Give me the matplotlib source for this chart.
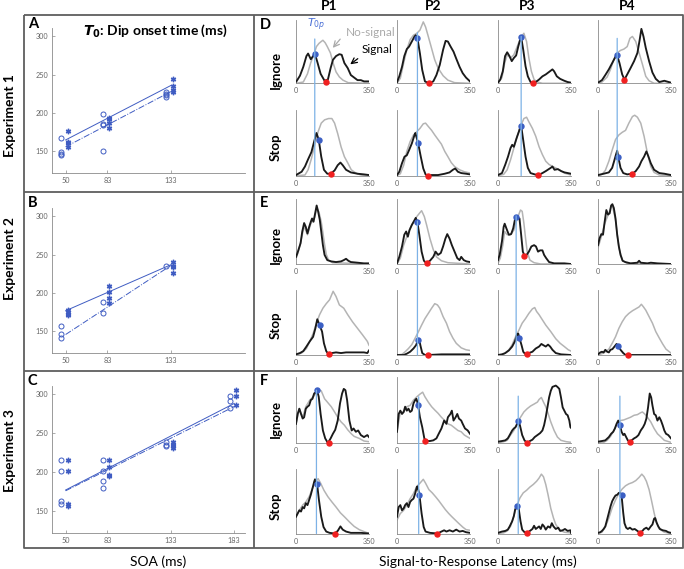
import numpy as np
import matplotlib
matplotlib.use('Agg')
import matplotlib.pyplot as plt
import matplotlib.transforms as mtransforms
from matplotlib.patches import ConnectionPatch

plt.rcParams['font.family'] = ['Lato', 'DejaVu Sans']

# ---------------- Scatter data (T0 dip onset time, ms) ----------------
soa_ticks = [50, 83, 133, 183]
expA_soa = [50, 83, 133]
expA_ignore = [[168, 149, 147, 145], [199, 186, 184, 150], [228, 225, 223, 221]]
expA_stop = [[177, 162, 161, 156], [194, 192, 187, 181], [245, 236, 230, 227]]
expA_fit_stop = [165, 236]
expA_fit_ignore = [156, 228]

expB_soa = [50, 83, 133]
expB_ignore = [[157, 147, 141], [189, 174], [236]]
expB_stop = [[178, 176, 173, 171], [209, 202, 194, 187], [241, 235, 234, 226]]
expB_fit_stop = [177, 237]
expB_fit_ignore = [146, 236]

expC_soa = [50, 83, 133, 183]
expC_ignore = [[215, 201, 163, 159], [215, 201, 189, 179], [238, 235, 233], [298, 291, 282]]
expC_stop = [[215, 201, 159, 156], [215, 206, 196, 195], [239, 235, 233, 231], [305, 297, 286]]
expC_fit_stop = [177, 288]
expC_fit_ignore = [176, 284]

# ---------------- Latency distributions (ms, % of panel height) ----------------
D_ign_sig = [
    [(2,3),(19,12),(35,26),(50,43),(58,47),(71,38),(82,43),(90,47),(102,34),(118,15),(137,4),(153,6),(166,24),(177,37),(192,43),(208,46),(219,45),(232,32),(248,24),(263,13),(279,9),(295,5),(311,5),(326,3),(350,3)],
    [(0,2),(11,11),(24,26),(35,43),(47,54),(58,58),(71,66),(84,74),(90,76),(98,71),(110,47),(121,21),(134,3),(153,0),(174,3),(189,13),(205,29),(221,53),(233,67),(244,66),(257,58),(271,50),(284,39),(300,26),(315,16),(331,9),(350,3)],
    [(0,1),(11,6),(23,19),(34,43),(44,49),(55,43),(66,35),(76,40),(87,44),(97,58),(108,71),(111,73),(121,53),(132,27),(143,11),(156,2),(167,1),(181,2),(197,6),(213,11),(229,14),(245,18),(261,22),(269,19),(282,11),(298,7),(318,4),(334,2),(350,1)],
    [(0,1),(19,5),(35,13),(52,22),(68,32),(84,42),(92,44),(103,32),(116,14),(127,6),(140,14),(156,24),(173,35),(189,48),(200,69),(208,86),(218,74),(229,56),(245,35),(261,17),(277,7),(294,2),(318,4),(350,1)],
]
D_ign_nos = [
    [(0,0),(35,2),(55,15),(70,32),(85,45),(98,58),(110,63),(121,66),(129,68),(140,64),(150,58),(165,48),(178,32),(192,18),(208,10),(225,5),(250,1),(350,0)],
    [(0,0),(16,8),(32,32),(47,53),(63,69),(79,76),(95,79),(110,84),(126,97),(137,89),(150,74),(166,55),(181,37),(197,24),(221,12),(244,5),(276,1),(350,0)],
    [(0,0),(19,9),(32,32),(44,45),(60,40),(76,45),(92,58),(108,71),(124,79),(137,66),(148,40),(160,19),(173,6),(189,2),(213,0),(350,0)],
    [(0,0),(19,2),(44,10),(60,22),(76,38),(92,48),(108,52),(124,54),(140,58),(153,71),(165,74),(181,66),(197,48),(213,30),(229,11),(245,4),(269,0),(350,0)],
]
D_stop_sig = [
    [(0,1),(27,6),(43,14),(58,25),(74,36),(87,52),(98,65),(109,55),(121,29),(134,9),(150,3),(166,3),(185,8),(200,16),(213,20),(224,16),(240,9),(263,5),(295,3),(326,2),(350,1)],
    [(0,1),(11,6),(24,19),(36,29),(47,31),(58,39),(71,49),(84,62),(88,65),(101,50),(114,29),(126,11),(137,2),(147,0),(166,1),(197,1),(229,3),(252,5),(268,9),(279,11),(292,6),(308,4),(331,3),(350,2)],
    [(0,1),(19,4),(35,17),(48,29),(60,42),(68,47),(76,44),(89,57),(100,67),(108,75),(111,76),(121,54),(132,29),(143,12),(156,4),(176,2),(194,1),(213,4),(229,7),(253,12),(261,14),(271,9),(287,10),(303,7),(319,5),(350,3)],
    [(0,1),(27,3),(52,5),(68,12),(79,24),(87,33),(92,38),(97,29),(108,12),(121,4),(140,2),(165,3),(181,7),(197,14),(208,22),(221,29),(232,37),(242,29),(253,19),(269,9),(294,4),(318,3),(350,1)],
]
D_stop_nos = [
    [(0,0),(43,1),(58,9),(74,26),(90,47),(106,67),(121,80),(137,85),(156,87),(172,87),(185,80),(200,64),(216,44),(232,29),(249,19),(265,9),(287,4),(311,1),(350,0)],
    [(0,0),(16,3),(32,16),(47,37),(63,52),(79,62),(95,67),(110,72),(126,79),(137,80),(150,75),(166,69),(181,62),(197,55),(213,48),(229,37),(244,29),(260,20),(276,14),(300,9),(323,6),(350,4)],
    [(0,0),(27,2),(44,9),(60,24),(76,42),(92,60),(108,75),(124,87),(137,89),(148,82),(165,72),(181,60),(197,44),(213,32),(229,22),(245,17),(269,13),(294,9),(318,4),(350,1)],
    [(0,0),(19,2),(35,8),(52,22),(68,39),(84,55),(100,62),(116,66),(132,69),(148,80),(165,90),(176,92),(189,89),(205,80),(221,60),(237,34),(253,14),(269,5),(294,1),(350,0)],
]

E_ign_sig = [
    [(0,11),(6,16),(14,24),(22,32),(30,50),(39,63),(47,57),(55,47),(63,57),(71,65),(77,70),(84,65),(90,75),(99,90),(106,81),(114,68),(121,50),(129,29),(137,14),(150,6),(169,4),(192,3),(216,4),(229,6),(240,8),(251,5),(263,3),(295,2),(326,1),(350,1)],
    [(0,1),(11,11),(24,27),(35,45),(44,50),(52,42),(60,52),(71,60),(80,65),(90,71),(98,64),(107,45),(118,19),(129,5),(142,1),(158,5),(174,11),(185,19),(197,14),(210,17),(221,27),(232,39),(241,46),(252,39),(263,29),(276,19),(289,9),(300,6),(308,11),(320,6),(333,4),(350,3)],
    [(0,6),(8,14),(19,35),(27,57),(32,62),(40,55),(52,45),(63,46),(73,55),(81,68),(87,73),(95,71),(103,70),(111,45),(119,19),(127,13),(137,14),(148,19),(160,27),(173,29),(182,27),(192,19),(202,21),(213,21),(221,14),(231,9),(245,3),(269,1),(318,1),(350,0)],
    [(0,29),(8,40),(16,46),(24,45),(32,65),(40,83),(48,76),(56,78),(63,90),(69,92),(76,86),(84,70),(92,45),(100,27),(108,14),(118,5),(131,3),(156,1),(189,2),(197,5),(205,2),(237,1),(253,2),(285,1),(350,0)],
]
E_ign_nos = [
    [(0,8),(14,22),(30,45),(39,58),(55,45),(71,62),(90,72),(99,86),(110,80),(121,65),(129,48),(137,30),(145,15),(156,6),(175,2),(350,0)],
    [(0,0),(16,9),(32,29),(47,42),(63,55),(79,65),(95,73),(110,79),(118,82),(131,73),(142,60),(158,39),(174,22),(189,11),(213,5),(244,2),(350,0)],
    [(0,1),(11,9),(23,29),(32,50),(44,45),(60,45),(76,52),(92,70),(108,83),(116,81),(124,63),(132,40),(140,19),(153,6),(173,2),(205,0),(350,0)],
    [(0,25),(16,42),(32,62),(48,75),(63,88),(69,90),(84,68),(100,25),(118,5),(140,1),(350,0)],
]
E_stop_sig = [
    [(0,1),(19,3),(35,6),(50,13),(66,21),(82,28),(93,41),(102,55),(113,46),(125,36),(134,18),(145,6),(156,1),(172,3),(192,4),(216,3),(240,4),(263,4),(295,4),(326,4),(342,3),(350,7)],
    [(0,0),(32,0),(47,2),(63,5),(79,10),(91,15),(99,21),(106,25),(112,15),(121,3),(134,0),(150,0),(213,1),(276,1),(350,1)],
    [(0,0),(19,1),(35,3),(52,7),(68,13),(81,21),(92,32),(97,33),(103,26),(113,15),(121,5),(129,2),(137,1),(148,3),(165,5),(181,10),(197,13),(208,17),(218,15),(229,13),(240,16),(250,13),(261,8),(277,3),(302,1),(350,0)],
    [(0,1),(11,4),(19,5),(27,4),(35,8),(44,5),(52,4),(60,8),(69,9),(79,13),(89,17),(97,14),(108,8),(121,3),(132,0),(142,0),(189,0),(350,0)],
]
E_stop_nos = [
    [(0,0),(27,3),(50,10),(66,21),(82,33),(98,49),(113,62),(129,72),(145,79),(161,85),(178,98),(192,90),(208,77),(229,72),(248,62),(271,51),(295,41),(319,31),(342,21),(350,15)],
    [(0,0),(24,1),(39,5),(55,10),(71,16),(87,26),(103,36),(118,46),(134,56),(150,64),(166,72),(181,79),(194,77),(205,72),(221,59),(237,49),(252,36),(268,26),(284,18),(308,11),(331,8),(350,7)],
    [(0,0),(27,1),(52,8),(68,16),(84,28),(100,38),(116,49),(132,56),(148,64),(165,71),(176,73),(185,67),(197,62),(213,54),(229,46),(253,36),(277,25),(298,18),(318,13),(337,8),(350,6)],
    [(0,0),(27,3),(52,9),(68,18),(84,28),(100,41),(116,51),(132,59),(148,64),(165,68),(181,71),(197,74),(208,78),(218,74),(229,69),(245,59),(261,49),(277,36),(294,26),(310,17),(326,9),(350,3)],
]

F_ign_sig = [
    [(0,29),(8,44),(16,52),(24,44),(32,37),(39,39),(47,52),(55,55),(63,57),(71,65),(79,67),(87,75),(95,77),(101,80),(109,70),(118,44),(129,19),(140,7),(153,0),(166,7),(177,14),(188,20),(200,34),(211,60),(221,75),(229,82),(237,80),(245,65),(256,34),(267,19),(276,22),(287,17),(298,19),(311,12),(326,9),(342,12),(350,9)],
    [(0,17),(8,44),(16,49),(24,44),(32,47),(39,55),(47,49),(55,52),(63,47),(71,49),(79,60),(87,65),(93,67),(101,58),(110,39),(121,24),(131,7),(139,3),(158,3),(174,4),(189,7),(200,14),(213,22),(226,34),(237,29),(244,39),(256,44),(263,49),(271,34),(281,39),(289,44),(297,37),(308,34),(315,29),(326,22),(339,19),(350,14)],
    [(0,2),(19,3),(35,4),(47,7),(56,12),(68,19),(76,22),(84,24),(92,29),(97,33),(105,27),(116,12),(127,4),(140,0),(153,3),(165,5),(176,9),(189,12),(202,15),(213,19),(221,27),(229,39),(237,54),(245,69),(253,79),(261,85),(269,86),(277,87),(285,85),(294,82),(302,69),(310,54),(318,49),(326,44),(334,42),(342,34),(347,24),(350,23)],
    [(0,2),(19,3),(35,4),(52,9),(63,14),(73,17),(81,22),(89,29),(97,34),(105,27),(113,17),(121,12),(127,14),(135,9),(143,4),(152,2),(161,4),(173,7),(184,9),(194,12),(205,19),(216,24),(224,29),(232,37),(240,54),(248,75),(255,69),(261,57),(269,44),(277,42),(285,34),(294,39),(302,34),(310,27),(318,19),(326,14),(337,12),(350,7)],
]
F_ign_nos = [
    [(0,29),(16,52),(32,39),(47,55),(66,65),(82,70),(98,76),(114,80),(121,79),(137,67),(153,61),(169,55),(185,47),(200,39),(216,32),(232,27),(248,20),(265,14),(279,10),(303,7),(326,3),(350,2)],
    [(0,17),(16,47),(32,47),(47,55),(63,57),(79,65),(95,70),(110,74),(123,77),(134,70),(150,62),(166,55),(181,50),(197,45),(213,39),(229,34),(244,29),(260,27),(276,23),(292,19),(308,17),(323,12),(339,9),(350,7)],
    [(0,0),(27,2),(44,4),(60,12),(76,19),(92,30),(108,39),(124,47),(140,52),(156,56),(173,59),(189,62),(197,66),(208,69),(218,62),(229,55),(240,45),(253,32),(269,19),(285,9),(302,4),(327,2),(350,1)],
    [(0,0),(27,1),(44,4),(60,10),(76,19),(92,29),(108,34),(124,35),(140,37),(156,39),(173,42),(189,43),(205,46),(213,47),(224,44),(237,39),(253,32),(269,22),(285,14),(302,9),(318,4),(350,1)],
]
F_stop_sig = [
    [(0,26),(8,31),(16,36),(24,34),(32,41),(39,39),(47,47),(55,44),(63,52),(71,60),(79,70),(87,80),(91,84),(101,77),(110,52),(121,26),(132,10),(145,3),(161,1),(185,0),(200,4),(213,11),(224,6),(240,3),(263,1),(311,1),(350,0)],
    [(0,26),(8,41),(16,44),(24,36),(32,39),(39,44),(47,47),(55,41),(63,49),(71,52),(79,54),(87,62),(95,72),(98,73),(107,61),(118,31),(128,10),(137,3),(158,1),(194,0),(213,3),(226,5),(237,3),(252,5),(268,3),(284,6),(300,3),(315,4),(331,2),(350,1)],
    [(0,1),(19,3),(35,4),(47,6),(56,11),(68,19),(76,27),(82,37),(89,42),(94,43),(100,37),(108,19),(116,6),(127,2),(140,1),(153,4),(165,7),(173,12),(181,7),(189,9),(197,11),(205,7),(213,14),(221,11),(229,6),(240,11),(250,9),(258,16),(266,11),(277,7),(289,9),(298,4),(310,5),(321,7),(334,4),(347,5),(350,1)],
    [(0,1),(11,2),(19,4),(27,7),(35,11),(44,22),(52,32),(60,42),(68,50),(76,55),(84,59),(92,60),(100,63),(108,62),(113,59),(121,32),(127,16),(135,9),(143,7),(153,9),(165,6),(176,7),(189,4),(202,1),(213,4),(221,7),(232,9),(242,6),(253,11),(261,14),(269,23),(274,24),(281,17),(289,11),(297,7),(310,5),(326,4),(337,2),(350,1)],
]
F_stop_nos = [
    [(0,26),(16,36),(32,44),(47,49),(63,57),(79,70),(95,80),(106,85),(118,78),(134,67),(153,57),(172,49),(192,41),(213,32),(232,26),(256,18),(279,11),(303,6),(326,3),(350,0)],
    [(0,21),(16,31),(32,36),(47,44),(63,54),(79,62),(95,73),(110,78),(126,84),(137,78),(153,68),(169,63),(185,57),(200,51),(216,44),(232,37),(248,31),(263,26),(279,21),(295,16),(315,10),(331,6),(350,5)],
    [(0,0),(27,1),(44,4),(60,11),(73,24),(89,42),(105,55),(121,63),(137,67),(153,72),(169,76),(185,81),(197,86),(208,92),(218,88),(229,76),(240,60),(253,39),(266,24),(277,14),(294,6),(318,2),(350,1)],
    [(0,0),(19,2),(35,10),(52,24),(68,40),(84,52),(100,62),(116,69),(132,74),(148,77),(165,79),(181,82),(197,87),(210,92),(221,88),(232,81),(245,68),(256,52),(269,32),(281,16),(294,7),(318,2),(350,0)],
]

# T0 (blue) and dip minimum (red) markers: (ms, % height)
D_ign_T0 = [(90, 47), (98, 71), (111, 73), (92, 44)]
D_ign_dip = [(142, 2), (153, 1), (167, 1), (127, 6)]
D_stop_T0 = [(109, 55), (101, 50), (111, 76), (97, 29)]
D_stop_dip = [(166, 3), (147, 0), (194, 1), (165, 3)]
E_ign_T0 = [None, (98, 64), (87, 73), None]
E_ign_dip = [None, (142, 1), (127, 13), None]
E_stop_T0 = [(113, 46), (101, 23), (103, 26), (97, 14)]
E_stop_dip = [(159, 1), (147, 0), (137, 1), (142, 0)]
F_ign_T0 = [(101, 80), (101, 58), (97, 33), (105, 27)]
F_ign_dip = [(156, 0), (134, 3), (140, 0), (152, 2)]
F_stop_T0 = [(101, 77), (107, 60), (93, 43), (113, 59)]
F_stop_dip = [(185, 0), (194, 0), (140, 1), (202, 1)]

# population T0p lines (ms)
D_T0p = [90, 98, 111, 92]
E_T0p = [None, 98, 87, None]
F_T0p = [98, 104, 97, 105]

participants = ['P1', 'P2', 'P3', 'P4']
conditions = ['Ignore', 'Stop']

# ---------------- Figure ----------------
W, H = 684, 569
fig = plt.figure(figsize=(W / 100, H / 100), dpi=100)

def ax_px(l, t, r, b):
    return fig.add_axes([l / W, 1 - b / H, (r - l) / W, (b - t) / H])

BLUE = '#3F5CC2'
LBLUE = '#7DB2E6'
GRAY = '#B4B4B4'
TICKC = '#666666'
SPC = '#8A8A8A'

# ---- scatter panels ----
scatter_rows = [
    (expA_soa, expA_ignore, expA_stop, expA_fit_ignore, expA_fit_stop, (28, 173.3), [50, 83, 133]),
    (expB_soa, expB_ignore, expB_stop, expB_fit_ignore, expB_fit_stop, (208, 353.3), [50, 83, 133]),
    (expC_soa, expC_ignore, expC_stop, expC_fit_ignore, expC_fit_stop, (385.5, 533.3), soa_ticks),
]
for soa, ign, stp, fit_i, fit_s, (t, b), xt in scatter_rows:
    ax = ax_px(52.3, t, 245, b)
    ax.set_facecolor('none')
    for s, vals in zip(soa, ign):
        ax.plot([s - 3.5] * len(vals), vals, 'o', mfc='none', mec=BLUE, ms=3.6, mew=0.7, clip_on=False)
    for s, vals in zip(soa, stp):
        ax.plot([s + 1.5] * len(vals), vals, marker=(6, 2, 0), ls='none', color=BLUE, ms=3.9, mew=1.0, clip_on=False)
    ax.plot([soa[0], soa[-1]], fit_s, '-', color=BLUE, lw=0.7)
    ax.plot([soa[0], soa[-1]], fit_i, '-.', color=BLUE, lw=0.7)
    ax.set_xlim(39.5, 191.5)
    ax.set_ylim(121.5, 311)
    ax.set_xticks(xt)
    ax.set_yticks([150, 200, 250, 300])
    for sp in ['top', 'right']:
        ax.spines[sp].set_visible(False)
    for sp in ['left', 'bottom']:
        ax.spines[sp].set_color(SPC)
        ax.spines[sp].set_linewidth(0.6)
    ax.tick_params(direction='in', length=2, width=0.5, color=SPC, labelsize=5.2,
                   labelcolor=TICKC, pad=3)

# ---- latency panels ----
col_left = [296, 397, 498, 598]
col_w = 73
row_tb = {'D': [(20, 83.3), (110, 175.7)],
          'E': [(199, 264), (290, 355)],
          'F': [(377, 443), (469, 533.5)]}
row_data = {
    'D': [(D_ign_sig, D_ign_nos, D_ign_T0, D_ign_dip), (D_stop_sig, D_stop_nos, D_stop_T0, D_stop_dip)],
    'E': [(E_ign_sig, E_ign_nos, E_ign_T0, E_ign_dip), (E_stop_sig, E_stop_nos, E_stop_T0, E_stop_dip)],
    'F': [(F_ign_sig, F_ign_nos, F_ign_T0, F_ign_dip), (F_stop_sig, F_stop_nos, F_stop_T0, F_stop_dip)],
}
row_T0p = {'D': D_T0p, 'E': E_T0p, 'F': F_T0p}
line_top = {'D': [0.70, 0.80, 0.74, 0.71], 'E': [None, 0.66, 0.74, None], 'F': [0.80, 0.70, 0.71, 0.71]}

axes_grid = {}
for r in ['D', 'E', 'F']:
    for ci in range(4):
        for k, (t, b) in enumerate(row_tb[r]):
            sig, nos, t0, dip = row_data[r][k]
            ax = ax_px(col_left[ci], t, col_left[ci] + col_w, b)
            ax.set_facecolor('none')
            xs, ys = zip(*nos[ci])
            ax.plot(xs, ys, color=GRAY, lw=1.1, zorder=2, solid_joinstyle='round')
            xs, ys = zip(*sig[ci])
            ax.plot(xs, ys, color='#1A1A1A', lw=1.35, zorder=3, solid_joinstyle='round')
            if t0[ci] is not None:
                ax.plot([t0[ci][0]], [t0[ci][1]], 'o', color='#3B5FC4', ms=3.6, zorder=5, clip_on=False)
            if dip[ci] is not None:
                ax.plot([dip[ci][0]], [dip[ci][1]], 'o', color='#F02020', ms=3.6, zorder=5, clip_on=False)
            ax.set_xlim(0, 350)
            ax.set_ylim(0, 100)
            ax.set_xticks([0, 350])
            ax.set_yticks([])
            for sp in ['top', 'right']:
                ax.spines[sp].set_visible(False)
            for sp in ['left', 'bottom']:
                ax.spines[sp].set_color(SPC)
                ax.spines[sp].set_linewidth(0.6)
            ax.tick_params(length=0, labelsize=5.2, labelcolor=TICKC, pad=3)
            axes_grid[(r, ci, k)] = ax

# T0p vertical lines spanning ignore & stop panels
for r in ['D', 'E', 'F']:
    for ci in range(4):
        x = row_T0p[r][ci]
        if x is None:
            continue
        a1 = axes_grid[(r, ci, 0)]
        a2 = axes_grid[(r, ci, 1)]
        tr1 = mtransforms.blended_transform_factory(a1.transData, a1.transAxes)
        tr2 = mtransforms.blended_transform_factory(a2.transData, a2.transAxes)
        con = ConnectionPatch(xyA=(x, line_top[r][ci]), coordsA=tr1, xyB=(x, 0), coordsB=tr2,
                              color=LBLUE, lw=0.9, zorder=1)
        fig.add_artist(con)

# ---- overlay: frames and text ----
ov = fig.add_axes([0, 0, 1, 1], zorder=10)
ov.set_xlim(0, W)
ov.set_ylim(H, 0)
ov.axis('off')
ov.patch.set_visible(False)

FR = dict(color='#5E5E5E', lw=1.3, solid_capstyle='butt')
ov.plot([24, 683, 683, 24, 24], [15, 15, 548, 548, 15], **FR)
ov.plot([254, 254], [15, 548], **FR)
ov.plot([24, 683], [192, 192], **FR)
ov.plot([24, 683], [371, 371], **FR)

for lab, y in zip(['A', 'B', 'C'], [24, 203, 381]):
    ov.text(28, y, lab, fontsize=10.5, fontweight='bold', ha='left', va='center')
for lab, y in zip(['D', 'E', 'F'], [25, 203, 381]):
    ov.text(260, y, lab, fontsize=10.5, fontweight='bold', ha='left', va='center')

ov.text(155, 31, r'$\mathbfit{T}_{\mathbf{0}}$: Dip onset time (ms)', fontsize=10, fontweight='bold',
        ha='center', va='center')

for i, y in enumerate([116, 258, 451]):
    ov.text(10, y, 'Experiment %d' % (i + 1), fontsize=10, fontweight='bold', rotation=90,
            ha='center', va='center')

ov.text(158, 562, 'SOA (ms)', fontsize=10, ha='center', va='center')
ov.text(478, 562, 'Signal-to-Response Latency (ms)', fontsize=10, ha='center', va='center')

for x, p in zip([329, 433, 527, 627], participants):
    ov.text(x, 6, p, fontsize=10, fontweight='bold', ha='center', va='center')

label_y = {'D': [70, 147], 'E': [245, 325], 'F': [419, 506]}
for r in ['D', 'E', 'F']:
    for k, c in enumerate(conditions):
        ov.text(276, label_y[r][k], c, fontsize=9.5, fontweight='bold', rotation=90,
                ha='center', va='center')

# annotations in panel D
ov.text(316, 25, r'$T_{0p}$', color='#4A6FD6', fontsize=8, ha='center', va='center')
ov.text(371, 32, 'No-signal', color='#AAAAAA', fontsize=8.5, ha='center', va='center')
ov.text(377, 49, 'Signal', color='black', fontsize=8.5, ha='center', va='center')
ov.annotate('', xy=(331, 50), xytext=(342, 37),
            arrowprops=dict(arrowstyle='->', color='#AAAAAA', lw=0.9))
ov.annotate('', xy=(348, 66), xytext=(360, 57),
            arrowprops=dict(arrowstyle='->', color='black', lw=0.9))

fig.savefig('out.png', dpi=100)
